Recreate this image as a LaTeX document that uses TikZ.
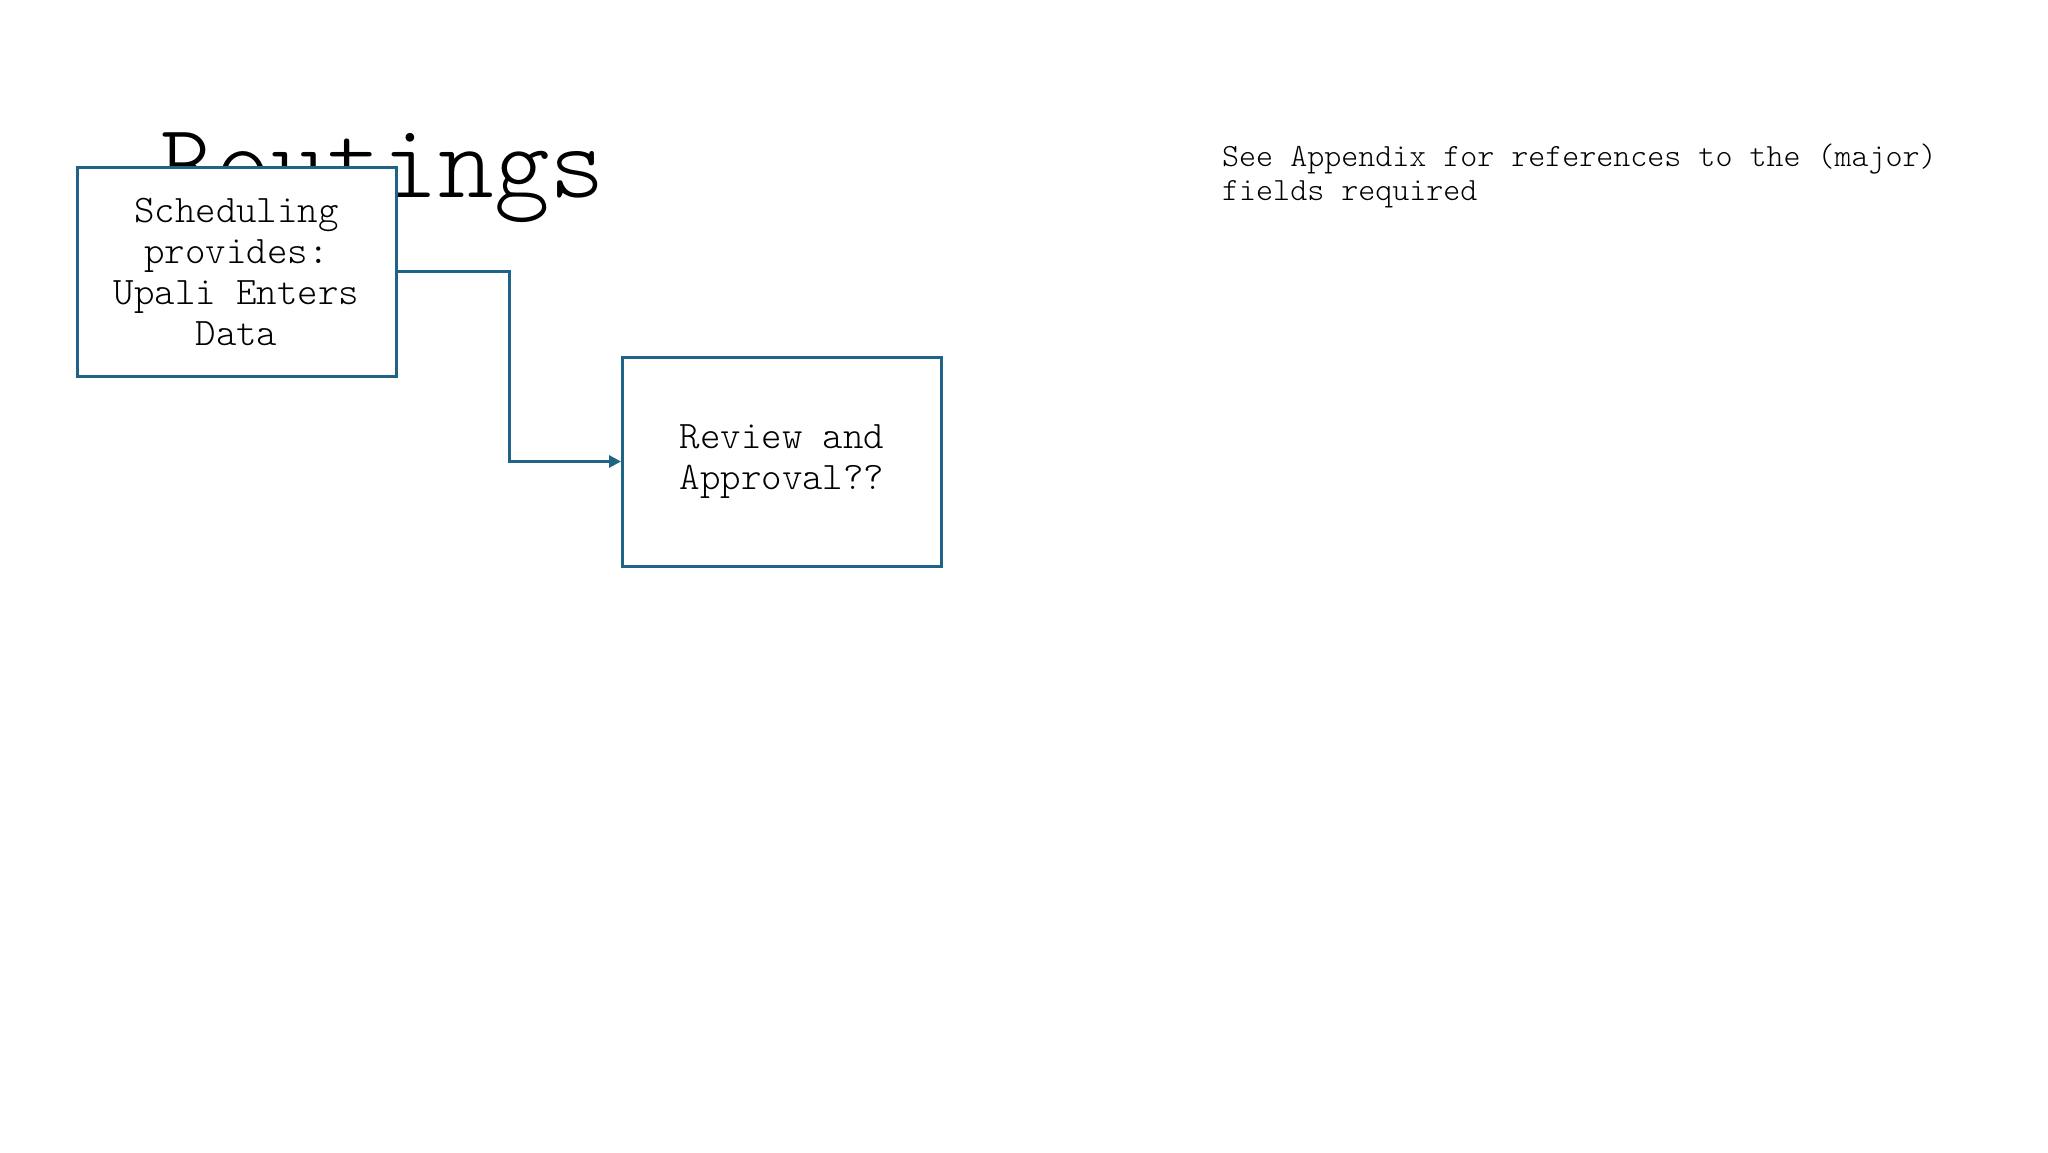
\documentclass[tikz,border=0pt]{standalone}
\usepackage{fontspec}
\setmainfont{Latin Modern Mono Light}
\usetikzlibrary{arrows.meta}
\definecolor{boxblue}{RGB}{31,99,135}
\tikzset{
  flowbox/.style={draw=boxblue, line width=3pt, fill=white, rectangle,
    minimum width=319pt, minimum height=209pt, inner sep=0pt, align=center,
    font=\fontsize{39}{41}\selectfont},
  flowarrow/.style={draw=boxblue, line width=3pt, -{Triangle[length=12pt,width=12pt]}},
}
\begin{document}
\begin{tikzpicture}[x=1pt,y=-1pt]
\useasboundingbox (0,0) rectangle (2048,1152);
\node[anchor=base west, inner sep=0pt, font=\fontsize{106}{116}\selectfont] (title) at (160,197) {Routings};
\node[anchor=base west, inner sep=0pt, align=left, font=\fontsize{32.4}{34}\selectfont] (note) at (1222,200) {See Appendix for references to the (major)\\fields required};
\node[flowbox] (box1) at (236.5,271.5) {Scheduling\\provides:\\Upali Enters\\Data};
\node[flowbox] (box2) at (782,461.5) {Review and\\Approval??};
\coordinate (mid) at (509,461.5);
\draw[flowarrow] (box1.east) -| (mid) -- (box2.west);
\end{tikzpicture}
\end{document}
